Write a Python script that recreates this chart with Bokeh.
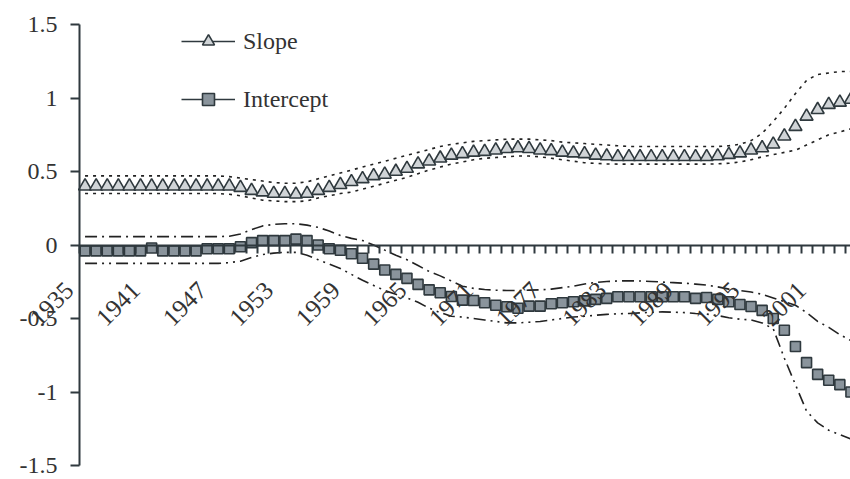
import math
from bokeh.plotting import figure
from bokeh.models import FixedTicker, Legend, LegendItem, Label
from bokeh.embed import file_html
from bokeh.resources import INLINE

years = list(range(1935, 2005))
label_years = [1935, 1941, 1947, 1953, 1959, 1965, 1971, 1977, 1983, 1989, 1995, 2001]
y_ticks = [-1.5, -1.0, -0.5, 0.0, 0.5, 1.0, 1.5]
y_tick_labels = ["-1.5", "-1", "-0.5", "0", "0.5", "1", "1.5"]

slope = [0.40] * 12 + [
    0.40, 0.40, 0.39, 0.37, 0.36, 0.35, 0.35, 0.345, 0.35, 0.37,
    0.39, 0.41, 0.43, 0.45, 0.47, 0.48, 0.50, 0.52, 0.55, 0.57,
    0.59, 0.61, 0.62, 0.63, 0.635, 0.645, 0.655, 0.66, 0.655, 0.645,
    0.64, 0.63, 0.625, 0.62, 0.61, 0.605, 0.60, 0.60, 0.60, 0.60,
    0.60, 0.60, 0.60, 0.60, 0.60, 0.605, 0.615, 0.625, 0.645, 0.66,
    0.685, 0.74, 0.805, 0.875, 0.92, 0.955, 0.97, 0.99]

slope_upper = [0.47] * 12 + [
    0.47, 0.465, 0.455, 0.445, 0.435, 0.425, 0.42, 0.42, 0.43, 0.45,
    0.47, 0.49, 0.51, 0.53, 0.55, 0.57, 0.59, 0.61, 0.63, 0.65,
    0.67, 0.685, 0.695, 0.705, 0.71, 0.715, 0.72, 0.72, 0.72, 0.715,
    0.71, 0.70, 0.695, 0.69, 0.685, 0.68, 0.675, 0.67, 0.67, 0.67,
    0.67, 0.67, 0.67, 0.67, 0.67, 0.67, 0.675, 0.685, 0.71, 0.76,
    0.84, 0.93, 1.03, 1.12, 1.16, 1.17, 1.18, 1.18]

slope_lower = [0.35] * 12 + [
    0.35, 0.345, 0.335, 0.32, 0.305, 0.30, 0.295, 0.295, 0.30, 0.32,
    0.335, 0.35, 0.36, 0.38, 0.40, 0.42, 0.44, 0.46, 0.485, 0.51,
    0.53, 0.55, 0.565, 0.58, 0.59, 0.595, 0.60, 0.605, 0.605, 0.60,
    0.59, 0.58, 0.57, 0.56, 0.555, 0.552, 0.55, 0.55, 0.55, 0.55,
    0.55, 0.55, 0.55, 0.55, 0.55, 0.552, 0.556, 0.565, 0.58, 0.60,
    0.615, 0.63, 0.645, 0.68, 0.715, 0.75, 0.77, 0.79]

intercept = [-0.04] * 6 + [
    -0.02, -0.04, -0.04, -0.04, -0.04, -0.025, -0.025, -0.025, -0.012, 0.016,
    0.03, 0.03, 0.03, 0.04, 0.03, 0.0, -0.025, -0.036, -0.06, -0.09,
    -0.13, -0.17, -0.20, -0.227, -0.268, -0.305, -0.325, -0.35, -0.375, -0.378,
    -0.393, -0.41, -0.42, -0.43, -0.416, -0.416, -0.40, -0.393, -0.386, -0.38,
    -0.37, -0.363, -0.352, -0.352, -0.352, -0.352, -0.352, -0.352, -0.352, -0.363,
    -0.357, -0.37, -0.386, -0.405, -0.418, -0.445, -0.50, -0.58, -0.69, -0.80,
    -0.88, -0.92, -0.95, -1.0]

intercept_upper = [0.057] * 12 + [
    0.057, 0.06, 0.075, 0.105, 0.13, 0.14, 0.145, 0.145, 0.135, 0.12,
    0.095, 0.065, 0.045, 0.03, 0.0, -0.035, -0.07, -0.10, -0.14, -0.18,
    -0.21, -0.245, -0.28, -0.295, -0.303, -0.307, -0.31, -0.31, -0.307, -0.305,
    -0.30, -0.29, -0.28, -0.265, -0.255, -0.248, -0.245, -0.243, -0.245, -0.248,
    -0.252, -0.256, -0.26, -0.266, -0.273, -0.285, -0.30, -0.31, -0.32, -0.335,
    -0.36, -0.385, -0.41, -0.46, -0.52, -0.56, -0.61, -0.65]

intercept_lower = [-0.125] * 12 + [
    -0.125, -0.12, -0.11, -0.085, -0.065, -0.055, -0.05, -0.05, -0.07, -0.10,
    -0.13, -0.16, -0.20, -0.24, -0.275, -0.31, -0.335, -0.36, -0.39, -0.43,
    -0.46, -0.485, -0.49, -0.50, -0.51, -0.52, -0.53, -0.53, -0.525, -0.52,
    -0.51, -0.50, -0.49, -0.485, -0.478, -0.472, -0.468, -0.466, -0.462, -0.458,
    -0.455, -0.457, -0.46, -0.466, -0.47, -0.48, -0.495, -0.505, -0.51, -0.53,
    -0.57, -0.77, -0.95, -1.13, -1.21, -1.26, -1.29, -1.32]

FONT = "Liberation Serif"
DARK = "#2f393e"
TEXT = "#333333"
FS = "24px"

W, H = 850, 479
# one category = 11.1 px; 0.5 on the value axis = 73.5 px.
# The frame spans the whole canvas so the axes and their labels sit inside it.
px_x = 11.1
px_y = 441 / 3.0
x_start = years[0] - 0.5 - 79 / px_x
x_end = x_start + W / px_x
y_top = y_ticks[-1] + 24 / px_y
y_bot = y_top - H / px_y

p = figure(width=W, height=H, output_backend="svg", toolbar_location=None,
           x_range=(x_start, x_end), y_range=(y_bot, y_top),
           min_border_left=0, min_border_right=0, min_border_top=0,
           min_border_bottom=0)
p.outline_line_color = None
p.grid.visible = False
p.background_fill_color = "white"

# y axis, drawn at the left edge of the first category
ya = p.yaxis[0]
ya.fixed_location = years[0] - 0.5
ya.bounds = (y_ticks[0], y_ticks[-1])
ya.ticker = FixedTicker(ticks=y_ticks)
ya.major_label_overrides = {t: s for t, s in zip(y_ticks, y_tick_labels)}
ya.axis_line_color = DARK
ya.axis_line_width = 2
ya.major_tick_line_color = DARK
ya.major_tick_line_width = 2
ya.major_tick_out = 9
ya.major_tick_in = 0
ya.minor_tick_line_color = None
ya.major_label_text_font = FONT
ya.major_label_text_font_size = FS
ya.major_label_text_color = TEXT
ya.major_label_standoff = 13

# x axis at y = 0: line + a tick at every category boundary
xa = p.xaxis[0]
xa.fixed_location = 0
bounds = [y - 0.5 for y in years] + [years[-1] + 0.5]
xa.bounds = (bounds[0], bounds[-1])
xa.ticker = FixedTicker(ticks=[], minor_ticks=bounds)
xa.axis_line_color = DARK
xa.axis_line_width = 2
xa.major_tick_line_color = None
xa.minor_tick_line_color = DARK
xa.minor_tick_line_width = 2
xa.minor_tick_out = 8
xa.minor_tick_in = 0

# rotated category labels (every 6th year), placed below the axis
for yr in label_years:
    p.add_layout(Label(x=yr, y=0, text=str(yr), angle=math.pi / 4,
                       text_align="right", text_baseline="middle",
                       x_offset=-16, y_offset=-41, text_font=FONT,
                       text_font_size="25px", text_color=TEXT))

# confidence bands
p.line(years, slope_upper, line_color="#222222", line_width=1.6, line_dash="3 5")
p.line(years, slope_lower, line_color="#222222", line_width=1.6, line_dash="3 5")
p.line(years, intercept_upper, line_color="#222222", line_width=1.6, line_dash="12 5 2 5")
p.line(years, intercept_lower, line_color="#222222", line_width=1.6, line_dash="12 5 2 5 2 5")

# series markers
r_int = p.scatter(years, intercept, marker="square", size=10,
                  fill_color="#8a949c", line_color=DARK, line_width=1.6)
r_slope = p.scatter(years, slope, marker="triangle", size=13,
                    fill_color="#d0d4d7", line_color=DARK, line_width=1.6)

# legend glyph lines (line + marker as in the legend)
nan = float("nan")
l_slope = p.line([nan], [nan], line_color=DARK, line_width=1.6)
l_int = p.line([nan], [nan], line_color=DARK, line_width=1.6)

legend = Legend(items=[LegendItem(label="Slope", renderers=[l_slope, r_slope]),
                       LegendItem(label="Intercept", renderers=[l_int, r_int])],
                location=(181, 365), glyph_width=54, glyph_height=30,
                label_height=30, spacing=28, label_standoff=8, padding=0,
                margin=0, border_line_alpha=0, background_fill_alpha=0,
                label_text_font=FONT, label_text_font_size=FS,
                label_text_color=TEXT)
p.add_layout(legend)

open("out.html", "w").write(file_html(p, INLINE))
